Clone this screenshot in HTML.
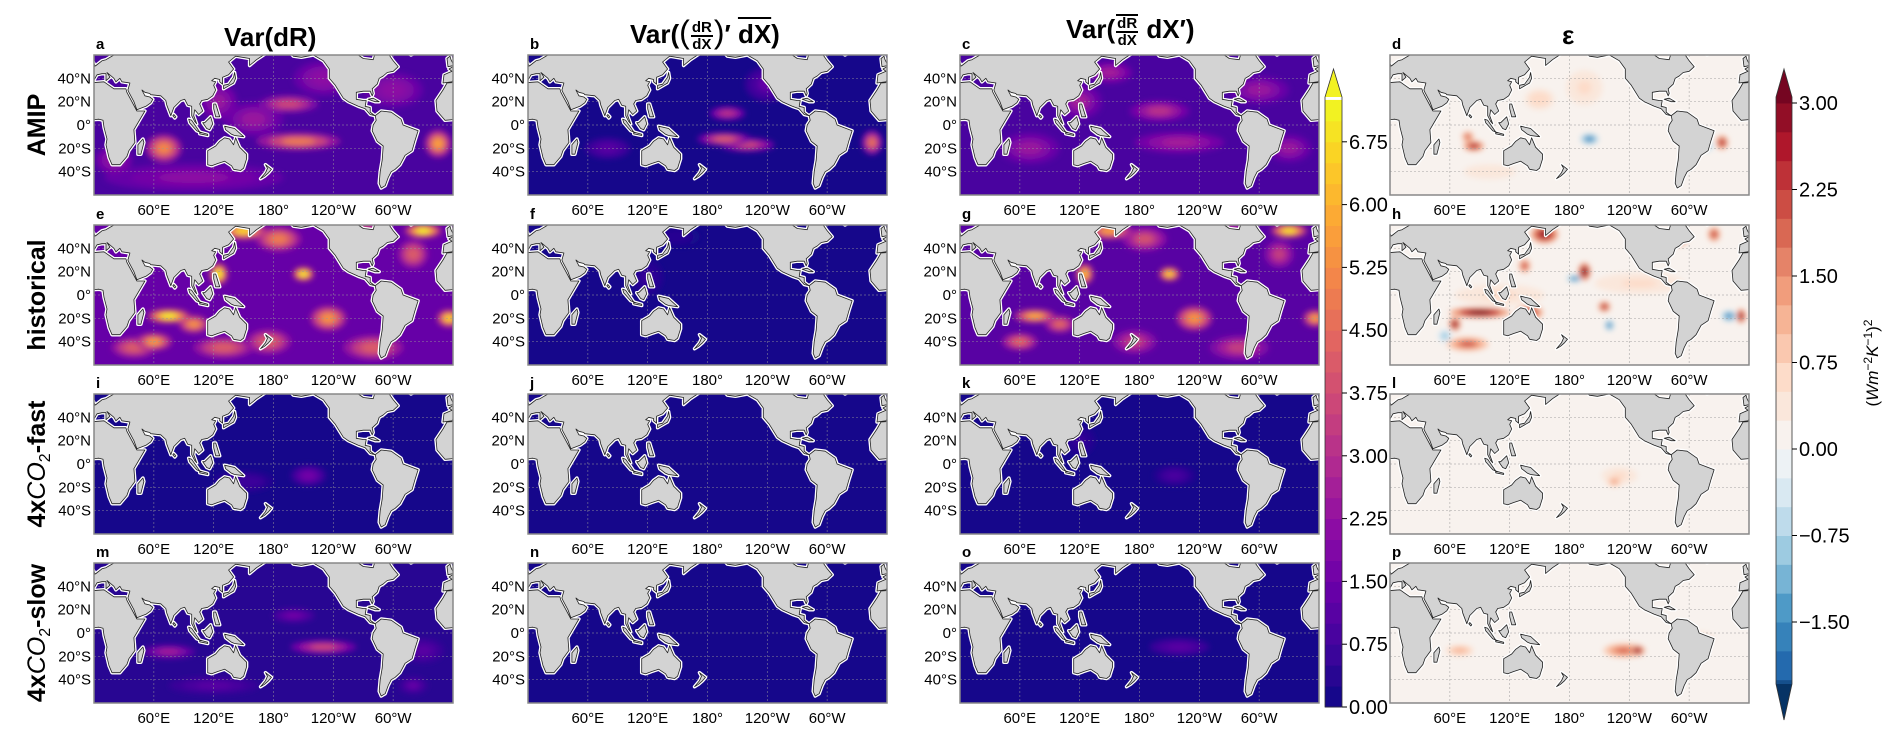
<!DOCTYPE html>
<html><head><meta charset="utf-8">
<style>
html,body{margin:0;padding:0;background:#fff;}
body{width:1892px;height:736px;position:relative;overflow:hidden;font-family:"Liberation Sans","DejaVu Sans",sans-serif;}
svg{position:absolute;left:0;top:0;}
.t{position:absolute;font-weight:bold;color:#000;white-space:nowrap;}
.frac{display:inline-block;vertical-align:middle;text-align:center;font-size:15px;line-height:15px;margin:0 1px;}
.frac span{display:block;}
.frac .n{border-bottom:2px solid #000;padding:0 1px;}
.ov{text-decoration:overline;}
</style></head>
<body>
<svg id="fig" width="1892" height="736" xmlns="http://www.w3.org/2000/svg">
<defs>
<filter id="blur" x="-50%" y="-50%" width="200%" height="200%"><feGaussianBlur stdDeviation="3"/></filter>
</defs>
</svg>

<div class="t" style="left:224px;top:22px;font-size:26px;">Var(dR)</div>
<div class="t" style="left:630px;top:14px;font-size:26px;">Var(<span style="font-weight:normal;font-size:32px">(</span><span class="frac"><span class="n">dR</span><span>dX</span></span><span style="font-weight:normal;font-size:32px">)</span>′ <span class="ov">dX</span>)</div>
<div class="t" style="left:1066px;top:14px;font-size:26px;">Var(<span class="frac"><span class="n" style="border-top:2px solid #000">dR</span><span>dX</span></span> dX′)</div>
<div class="t" style="left:1562px;top:20px;font-size:26px;">ε</div>

<script>
// ---- data ----
const colLefts=[94,528,960,1390];
const rowTops=[55,225,394,563];
const PW=359, PH=140;
const rowNames=["AMIP","historical","4xCO2-fast","4xCO2-slow"];
const panelLetters=["a","b","c","d","e","f","g","h","i","j","k","l","m","n","o","p"];
const latTicks=[40,20,0,-20,-40];
const latTickLabels=["40°N","20°N","0°","20°S","40°S"];
const lonTicks=[60,120,180,240,300];
const lonTickLabels=["60°E","120°E","180°","120°W","60°W"];
const cb1Ticks=[0,0.75,1.5,2.25,3,3.75,4.5,5.25,6,6.75];
const cb2Ticks=[-1.5,-0.75,0,0.75,1.5,2.25,3];
// base field value per panel
const panelBase=[0.9,0.2,0.8,0.1, 1.3,0.1,1.1,0.15, 0.12,0.08,0.1,0.1, 0.25,0.08,0.2,0.1];
// blobs: [lon, lat, rx(deg), ry(deg), value]
const blobsA=[[70,-20,12,8,5.0],[205,-14,28,5,4.8],[195,18,20,5,3.6],[345,-16,9,8,5.5],[160,5,20,10,2.3],[125,20,12,10,2.4],[300,30,20,10,2.2],[230,40,20,10,2.2],[100,-45,60,8,2.0],[20,-30,12,8,2.4]];
const blobsB=[[197,-12,18,4,4.0],[220,-17,18,4,3.5],[200,10,12,4,3.2],[345,-15,7,7,4.5],[240,35,15,10,1.3],[80,-20,15,6,1.1]];
const blobsC=[[200,12,20,6,3.0],[220,-15,30,6,2.6],[70,-20,20,9,2.4],[330,-20,15,8,2.4],[300,30,20,8,2.3],[120,20,15,10,2.5],[150,45,15,6,2.6]];
const blobsD=[[78,-10,4,3,2.0],[84,-18,7,3,2.7],[200,-12,6,3,-1.6],[333,-15,4,4,2.7],[318,-18,4,3,-0.9],[150,22,10,6,0.7],[195,32,12,10,0.5],[100,-40,25,6,0.4]];
const blobsE=[[75,-18,14,4,7],[125,18,6,6,7],[210,18,7,4,7],[330,55,12,4,7],[150,55,15,5,6.5],[185,48,15,7,4.8],[60,-40,12,5,5.5],[100,-25,10,5,5.3],[235,-20,12,7,5.3],[356,-20,8,5,6.5],[280,-45,20,7,4.2],[175,-40,15,7,4.2],[320,35,10,8,4.2],[270,50,15,8,4.8],[40,-45,15,6,4.2],[130,-45,20,6,4.2]];
const blobsF=[[120,15,10,10,0.5],[150,50,15,6,0.4]];
const blobsG=[[75,-18,14,4,5.8],[125,18,6,6,6.2],[210,18,7,4,6.5],[330,55,12,4,6.8],[150,55,15,5,5.5],[185,48,15,7,3.8],[60,-40,12,5,4.3],[100,-25,10,5,4.3],[235,-20,12,7,5.3],[356,-20,8,5,5.5],[280,-45,20,7,3.3],[175,-40,15,7,3.3],[320,35,10,8,3.3],[270,50,15,8,3.8]];
const blobsH=[[90,-15,20,3,3.2],[65,-25,4,4,2.8],[78,-42,14,4,2.0],[140,-15,9,4,2.6],[155,52,9,5,2.9],[195,20,4,5,3.2],[185,14,5,2,-1.7],[215,-10,4,3,2.7],[220,-26,3,3,-1.7],[340,-18,5,3,-1.7],[352,-18,3,4,2.9],[290,50,6,5,2.7],[325,52,4,4,2.3],[135,25,4,4,2.1],[55,-35,5,4,-0.8],[250,10,30,6,0.6],[110,0,30,6,0.5]];
const blobsI=[[215,-10,12,6,1.6],[150,-15,20,6,0.7]];
const blobsJ=[];
const blobsK=[[215,-10,14,6,0.8],[120,20,10,8,0.5]];
const blobsL=[[225,-15,5,3,1.3],[230,-10,12,5,0.5]];
const blobsM=[[230,-12,22,4,3.6],[75,-16,18,4,2.6],[200,15,14,4,1.6],[330,-15,14,7,1.2],[320,-45,10,5,1.3],[120,-45,30,5,1.0]];
const blobsN=[];
const blobsO=[[220,-12,20,5,1.0]];
const blobsP=[[235,-15,14,4,1.8],[248,-15,5,3,2.9],[70,-15,9,3,1.1],[310,-5,10,4,0.6]];
const panelBlobs=[blobsA,blobsB,blobsC,blobsD,blobsE,blobsF,blobsG,blobsH,blobsI,blobsJ,blobsK,blobsL,blobsM,blobsN,blobsO,blobsP];

// land polygons [lon,lat] (lon may be negative)
const land=[
[[-17,21],[-16,12],[-8,4],[5,5],[9,4],[10,-2],[13,-12],[12,-17],[15,-28],[18,-34],[26,-34],[33,-27],[35,-22],[41,-15],[40,-4],[51,12],[43,12],[33,28],[32,31],[20,31],[10,37],[-6,36],[-10,30]],
[[44,-25],[47,-25],[50,-15],[49,-12],[44,-17]],
[[-10,36],[-9,43],[-1,46],[-4,48],[2,51],[8,55],[12,56],[20,60],[20,75],[182,75],[182,66],[170,60],[163,56],[156,51],[156,57],[142,59],[135,54],[140,48],[135,43],[129,41],[129,35],[126,37],[126,39],[121,40],[118,38],[122,37],[120,34],[122,30],[119,25],[114,22],[108,21],[106,18],[109,12],[105,9],[101,13],[100,8],[103,1],[101,3],[98,8],[98,16],[94,17],[91,22],[87,21],[80,15],[77,8],[73,17],[72,21],[67,25],[57,26],[56,27],[51,28],[48,30],[51,25],[56,24],[59,22],[57,19],[52,16],[43,13],[40,20],[35,28],[34,30],[36,36],[28,37],[26,40],[22,37],[20,40],[13,45],[16,41],[12,38],[12,44],[8,44],[3,43],[-1,37]],
[[130,31],[136,34],[140,36],[142,40],[141,45],[140,41],[135,35],[130,34]],
[[109,2],[113,-3],[116,-4],[119,1],[117,7],[111,2]],
[[95,5],[98,4],[106,-6],[103,-5],[96,2]],
[[106,-6],[114,-8],[114,-9],[106,-7.5]],
[[131,-1],[141,-3],[150,-10],[141,-9],[138,-8],[132,-4]],
[[114,-22],[114,-34],[118,-35],[124,-33],[131,-31],[138,-35],[140,-38],[147,-39],[150,-37],[153,-29],[153,-25],[146,-19],[142,-11],[140,-17],[136,-12],[131,-11],[126,-14],[122,-18]],
[[172,-34],[178,-38],[175,-41],[171,-44],[167,-46],[172,-41],[174,-37]],
[[120,18],[122,18],[126,7],[122,7],[120,14]],
[[80,9],[82,7],[81,6],[79,8]],
[[-5,50],[1,51],[-2,56],[-3,59],[-6,57]],
[[-73,80],[-10,80],[-20,70],[-42,60],[-50,64],[-55,70]],
[[-180,75],[-168,66],[-160,59],[-152,58],[-140,60],[-130,55],[-124,48],[-124,40],[-118,34],[-110,23],[-105,20],[-95,16],[-88,14],[-83,9],[-78,8],[-80,9],[-83,11],[-83,15],[-88,16],[-87,21],[-90,21],[-97,22],[-97,28],[-90,29],[-83,29],[-81,25],[-80,27],[-81,31],[-76,35],[-74,40],[-70,42],[-66,45],[-60,46],[-55,50],[-60,55],[-64,60],[-70,61],[-78,62],[-80,56],[-90,57],[-95,60],[-95,75]],
[[-85,22],[-80,23],[-74,20],[-78,20]],
[[-78,8],[-72,12],[-62,11],[-52,5],[-50,0],[-35,-5],[-38,-13],[-41,-22],[-48,-26],[-53,-34],[-58,-38],[-62,-40],[-65,-45],[-68,-52],[-72,-54],[-74,-50],[-73,-40],[-71,-30],[-70,-18],[-76,-14],[-81,-5],[-80,0],[-77,4]]
];

// ---- color maps ----
const plasma=["#0d0887","#41049d","#6a00a8","#8f0da4","#b12a90","#cc4778","#e16462","#f2844b","#fca636","#fcce25","#f0f921"];
const rdbu=["#053061","#2166ac","#4393c3","#92c5de","#d1e5f0","#f7f7f7","#fddbc7","#f4a582","#d6604d","#b2182b","#67001f"];
function hex(h){return [parseInt(h.substr(1,2),16),parseInt(h.substr(3,2),16),parseInt(h.substr(5,2),16)];}
function interp(arr,t){t=Math.max(0,Math.min(1,t));const f=t*(arr.length-1);const i=Math.min(arr.length-2,Math.floor(f));const u=f-i;const a=hex(arr[i]),b=hex(arr[i+1]);return "rgb("+a.map((v,k)=>Math.round(v+(b[k]-v)*u)).join(",")+")";}
function cPlasma(v){v=Math.floor(v/0.25)*0.25+0.125;return interp(plasma,v/7.25);}
function cEps(v){v=Math.floor(v/0.25)*0.25+0.125;const t=v>=0?0.5+v/6.5:0.5+v/4.8;return interp(rdbu,t);}

const NS="http://www.w3.org/2000/svg";
const svg=document.getElementById("fig");
function mk(tag,attrs,parent){const e=document.createElementNS(NS,tag);for(const k in attrs)e.setAttribute(k,attrs[k]);(parent||svg).appendChild(e);return e;}
function txt(s,x,y,size,anchor,parent,weight){const e=mk("text",{x:x,y:y,"font-size":size,"text-anchor":anchor||"start","font-family":"Liberation Sans, DejaVu Sans, sans-serif","font-weight":weight||"normal",fill:"#000"},parent);e.textContent=s;return e;}

// panels
for(let r=0;r<4;r++){
 for(let c=0;c<4;c++){
  const idx=r*4+c, x0=colLefts[c], y0=rowTops[r];
  const X=lon=>x0+lon*PW/360, Y=lat=>y0+(60-lat)*PH/120;
  const col=c===3?cEps:cPlasma;
  const g=mk("g",{});
  
  
  const cp=mk("clipPath",{id:"cp"+idx},g);
  mk("rect",{x:x0,y:y0,width:PW,height:PH},cp);
  const inner=mk("g",{"clip-path":"url(#cp"+idx+")"},g);
  mk("rect",{x:x0,y:y0,width:PW,height:PH,fill:col(panelBase[idx])},inner);
  const bg=mk("g",{filter:"url(#blur)"},inner);
  panelBlobs[idx].slice().sort((a,b)=>Math.abs(a[4])-Math.abs(b[4])).forEach(b=>{
   for(let k=3;k>=1;k--){
    const v=panelBase[idx]+(b[4]-panelBase[idx])*(k===3?0.4:k===2?0.7:1);
    const s=k===3?1.5:k===2?1.05:0.6;
    const e=mk("ellipse",{cx:X(b[0]),cy:Y(b[1]),rx:b[2]*s*PW/360,ry:b[3]*s*PH/120,fill:col(v)},bg);
    
    
   }
  });
  // grid
  lonTicks.forEach(l=>mk("line",{x1:X(l),x2:X(l),y1:y0,y2:y0+PH,stroke:"#999","stroke-width":0.7,"stroke-dasharray":"2,2",opacity:0.7},inner));
  latTicks.forEach(l=>mk("line",{x1:x0,x2:x0+PW,y1:Y(l),y2:Y(l),stroke:"#999","stroke-width":0.7,"stroke-dasharray":"2,2",opacity:0.7},inner));
  // land
  [0,360].forEach(sh=>{
   land.forEach(p=>{
    const d="M"+p.map(q=>X(q[0]+sh).toFixed(1)+","+Y(q[1]).toFixed(1)).join("L")+"Z";
    mk("path",{d:d,fill:"#fff",stroke:"#fff","stroke-width":3.5,"stroke-linejoin":"round"},inner);
   });
   land.forEach(p=>{
    const d="M"+p.map(q=>X(q[0]+sh).toFixed(1)+","+Y(q[1]).toFixed(1)).join("L")+"Z";
    const e=mk("path",{d:d,fill:"#d3d3d3",stroke:"#222","stroke-width":0.8,"stroke-linejoin":"round"},inner);
    
    
   });
  });
  mk("rect",{x:x0,y:y0,width:PW,height:PH,fill:"none",stroke:"#888","stroke-width":1.5},g);
  // lat labels (not on epsilon column)
  if(c<3) latTicks.forEach((l,i)=>{const t=txt(latTickLabels[i],x0-3,Y(l)+5,15,"end",g);});
  lonTicks.forEach((l,i)=>{const t=txt(lonTickLabels[i],X(l),y0+PH+20,15,"middle",g);});
  const L=txt(panelLetters[idx],x0+2,y0-6,15,"start",g,"bold");
  
  
 }
 // row label
 const cy=rowTops[r]+PH/2;
 const t=mk("text",{x:0,y:0,transform:"translate(45,"+cy+") rotate(-90)","font-size":25,"font-weight":"bold","text-anchor":"middle","font-family":"Liberation Sans, DejaVu Sans, sans-serif"});
 
 
 const nm=rowNames[r];
 if(nm.indexOf("CO2")>=0){
  const a=mk("tspan",{},t);a.textContent="4x";
  const b=mk("tspan",{"font-style":"italic","font-weight":"normal"},t);b.textContent="CO";
  const s=mk("tspan",{"font-size":16,"font-weight":"normal",dy:5},t);s.textContent="2";
  const d=mk("tspan",{dy:-5},t);d.textContent=nm.split("CO2")[1];
 } else t.textContent=nm;
}

// colorbar 1
(function(){
 const x=1325,w=17,y0=707,unit=62.8/0.75,top=97,tip=69;
 const g=mk("g",{});
 
 
 for(let v=0;v<7.25;v+=0.25){
  const ya=y0-v*unit, yb=Math.max(top,y0-(v+0.25)*unit);
  mk("rect",{x:x,y:yb,width:w,height:ya-yb+0.5,fill:cPlasma(v)},g);
 }
 mk("path",{d:`M${x},${top}L${x+w/2},${tip}L${x+w},${top}Z`,fill:cPlasma(7.1)},g);
 mk("path",{d:`M${x},${y0}L${x},${top}L${x+w/2},${tip}L${x+w},${top}L${x+w},${y0}Z`,fill:"none",stroke:"#333","stroke-width":0.8},g);
 cb1Ticks.forEach(v=>{const y=y0-v*unit;mk("line",{x1:x+w,x2:x+w+5,y1:y,y2:y,stroke:"#000"},g);const t=txt(v.toFixed(2),x+w+7,y+7,20,"start",g);});
})();
// colorbar 2
(function(){
 const x=1776,w=16,z=449,unit=86.5/0.75,top=97,bot=684,tip=69,btip=720;
 const g=mk("g",{});
 
 
 for(let v=-2.25;v<3.05;v+=0.25){
  let ya=Math.min(bot,z-v*unit), yb=Math.max(top,z-(v+0.25)*unit);
  if(ya>yb)mk("rect",{x:x,y:yb,width:w,height:ya-yb+0.5,fill:cEps(v)},g);
 }
 mk("path",{d:`M${x},${top}L${x+w/2},${tip}L${x+w},${top}Z`,fill:cEps(3.2)},g);
 mk("path",{d:`M${x},${bot}L${x+w/2},${btip}L${x+w},${bot}Z`,fill:cEps(-2.3)},g);
 mk("path",{d:`M${x},${bot}L${x},${top}L${x+w/2},${tip}L${x+w},${top}L${x+w},${bot}L${x+w/2},${btip}Z`,fill:"none",stroke:"#333","stroke-width":0.8},g);
 cb2Ticks.forEach(v=>{const y=z-v*unit;mk("line",{x1:x+w,x2:x+w+5,y1:y,y2:y,stroke:"#000"},g);const t=txt((v<0?"\u2212":"")+Math.abs(v).toFixed(2),x+w+7,y+7,20,"start",g);});
 const lab=mk("text",{transform:"translate(1878,363) rotate(-90)","font-size":17,"text-anchor":"middle","font-family":"Liberation Sans, DejaVu Sans, sans-serif"},g);
 
 
 lab.innerHTML='(<tspan font-style="italic">Wm</tspan><tspan dy="-6" font-size="12">−2</tspan><tspan dy="6" font-style="italic">K</tspan><tspan dy="-6" font-size="12">−1</tspan><tspan dy="6">)</tspan><tspan dy="-6" font-size="12">2</tspan>';
})();
</script>
</body></html>
